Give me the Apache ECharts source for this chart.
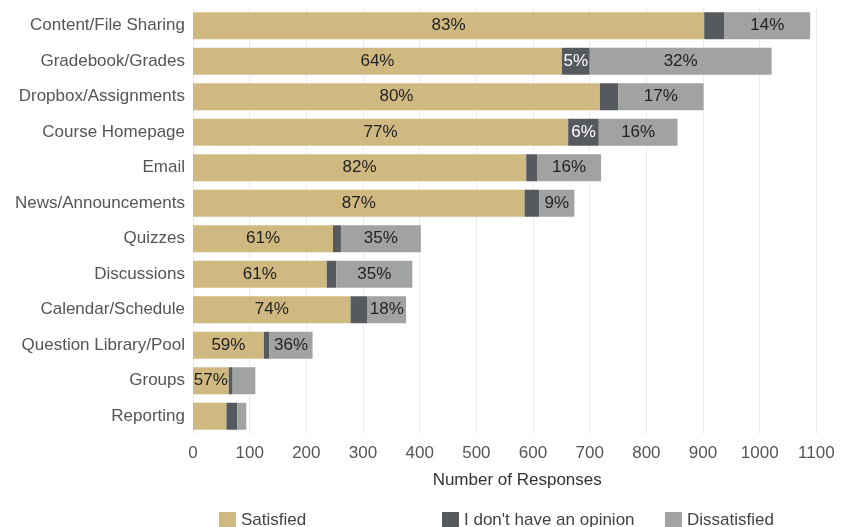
<!DOCTYPE html>
<html><head><meta charset="utf-8">
<script src="https://cdn.jsdelivr.net/npm/echarts@6/dist/echarts.min.js"></script>
<style>html,body{margin:0;padding:0;background:#fff}#c{width:850px;height:527px}</style>
</head><body><div id="c"></div>
<script>
var categories = ["Content/File Sharing","Gradebook/Grades","Dropbox/Assignments","Course Homepage","Email","News/Announcements","Quizzes","Discussions","Calendar/Schedule","Question Library/Pool","Groups","Reporting"];
var satisfied   = [902, 651, 718, 662, 588, 585, 247, 236, 278, 125, 63, 59];
var noOpinion   = [36, 49, 32, 54, 19, 26, 14, 17, 30, 10, 7, 19];
var dissatisfied= [151, 321, 151, 139, 113, 62, 141, 134, 68, 76, 40, 16];
var satLabels   = ["83%","64%","80%","77%","82%","87%","61%","61%","74%","59%","57%",""];
var opLabels    = ["","5%","","6%","","","","","","","",""];
var disLabels   = ["14%","32%","17%","16%","16%","9%","35%","35%","18%","36%","",""];
var xTicks = [0,100,200,300,400,500,600,700,800,900,1000,1100];

var FONT = "Liberation Sans";
var FS = 17;
var chart = echarts.init(document.getElementById('c'));
function lbl(arr, color){
  return {show:true, position:'inside', fontFamily:FONT, fontSize:FS, color:color,
    formatter:function(p){return arr[p.dataIndex];}};
}
var legText = {fontFamily:FONT,fontSize:FS,color:'#444'};
chart.setOption({
  animation:false,
  backgroundColor:'#fff',
  textStyle:{fontFamily:FONT},
  grid:{left:193, right:33.6, top:8, bottom:93, containLabel:false},
  legend:[
    {left:214, top:507, itemWidth:17, itemHeight:17, icon:'rect', data:['Satisfied'], textStyle:legText},
    {left:437, top:507, itemWidth:17, itemHeight:17, icon:'rect', data:["I don't have an opinion"], textStyle:legText},
    {left:660, top:507, itemWidth:17, itemHeight:17, icon:'rect', data:['Dissatisfied'], textStyle:legText}
  ],
  xAxis:{type:'value', min:xTicks[0], max:xTicks[xTicks.length-1], interval:100,
    name:'Number of Responses', nameLocation:'middle', nameGap:38,
    nameTextStyle:{fontFamily:FONT,fontSize:FS,color:'#333',padding:[0,0,0,25]},
    axisLine:{show:false}, axisTick:{show:false},
    axisLabel:{fontFamily:FONT,fontSize:FS,color:'#555',margin:11,formatter:function(v){return String(v);}},
    splitLine:{lineStyle:{color:'#ececec'}}},
  yAxis:{type:'category', inverse:true, data:categories,
    axisLine:{show:false}, axisTick:{show:false},
    axisLabel:{fontFamily:FONT,fontSize:FS,color:'#555',margin:8}},
  series:[
    {name:'Satisfied', type:'bar', stack:'t', data:satisfied, barCategoryGap:'24%', itemStyle:{color:'#d0b981'}, label:lbl(satLabels,'#222')},
    {name:"I don't have an opinion", type:'bar', stack:'t', data:noOpinion, itemStyle:{color:'#56595d'}, label:lbl(opLabels,'#fff')},
    {name:'Dissatisfied', type:'bar', stack:'t', data:dissatisfied, itemStyle:{color:'#a1a3a3'}, label:lbl(disLabels,'#222')}
  ]
});
</script></body></html>
